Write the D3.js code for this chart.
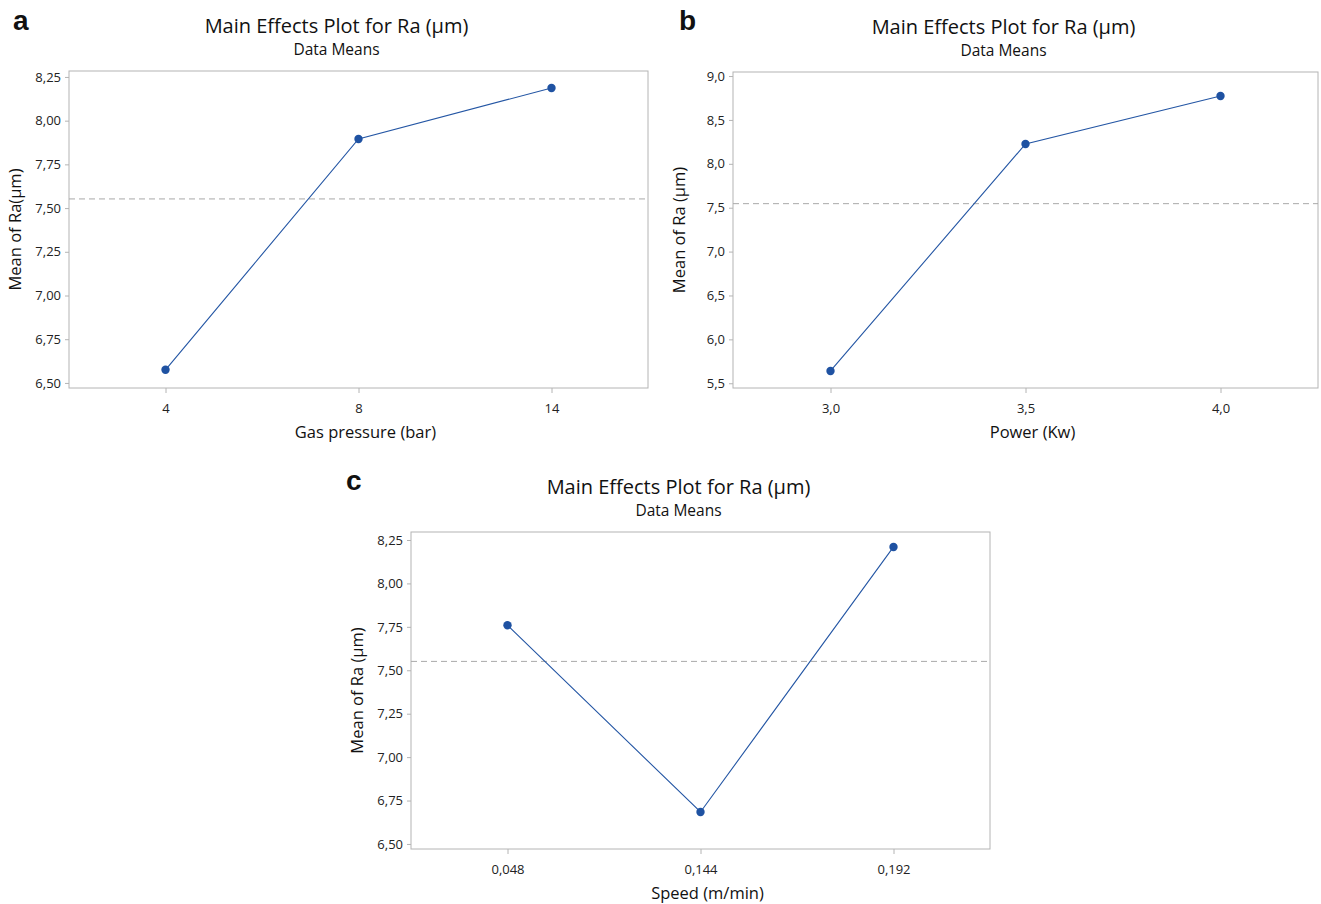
<!DOCTYPE html>
<html>
<head>
<meta charset="utf-8">
<script src="https://cdn.jsdelivr.net/npm/d3@7"></script>
<style>
  html, body { margin: 0; padding: 0; background: #fff; }
  svg { display: block; }
  .tick text { font-family: "Open Sans", "Noto Sans", sans-serif; font-size: 13px; fill: #222; }
</style>
</head>
<body>
<svg id="fig" width="1321" height="904"></svg>
<script>
// Main effects of the process factors on surface roughness Ra (µm)
const gasPressureLevels = ["4", "8", "14"];
const raByGasPressure = [6.575, 7.895, 8.187];

const powerLevels = ["3,0", "3,5", "4,0"];
const raByPower = [5.64, 8.226, 8.772];

const speedLevels = ["0,048", "0,144", "0,192"];
const raBySpeed = [7.759, 6.684, 8.21];

const ticksQuarter = [6.5, 6.75, 7.0, 7.25, 7.5, 7.75, 8.0, 8.25];
const ticksHalf = [5.5, 6.0, 6.5, 7.0, 7.5, 8.0, 8.5, 9.0];

const locale = d3.formatLocale({ decimal: ",", thousands: ".", grouping: [3], currency: ["", ""] });

const svg = d3.select("#fig");
const FONT = '"Open Sans", "Noto Sans", sans-serif';
const LINE = "#2456a4";
const FRAME = "#b4b4b4";

function panel(cfg) {
  const { x0, x1, y0, y1 } = cfg.frame;
  const g = svg.append("g");

  const x = d3.scalePoint().domain(cfg.levels).range([x0, x1]).padding(0.5);
  const y = d3.scaleLinear().domain(cfg.yDomain).range([y1, y0]);

  // frame
  g.append("rect")
    .attr("x", x0).attr("y", y0)
    .attr("width", x1 - x0).attr("height", y1 - y0)
    .attr("fill", "none").attr("stroke", FRAME).attr("stroke-width", 1);

  // axes
  const yAxis = d3.axisLeft(y).tickValues(cfg.yTicks)
    .tickFormat(locale.format(cfg.yFormat)).tickSize(4).tickPadding(4);
  const ga = g.append("g").attr("transform", `translate(${x0},0)`).call(yAxis);
  ga.select(".domain").remove();
  ga.selectAll(".tick line").attr("stroke", FRAME);

  const xAxis = d3.axisBottom(x).tickSize(5).tickPadding(11);
  const gb = g.append("g").attr("transform", `translate(0,${y1})`).call(xAxis);
  gb.select(".domain").remove();
  gb.selectAll(".tick line").attr("stroke", FRAME);

  // grand mean reference line
  const mean = d3.mean(cfg.values);
  g.append("line")
    .attr("x1", x0).attr("x2", x1)
    .attr("y1", y(mean)).attr("y2", y(mean))
    .attr("stroke", "#a9a9a9").attr("stroke-width", 1)
    .attr("stroke-dasharray", "6,4");

  // effect line and level means
  const pts = cfg.levels.map((l, i) => [x(l), y(cfg.values[i])]);
  g.append("path")
    .attr("d", d3.line()(pts))
    .attr("fill", "none").attr("stroke", LINE).attr("stroke-width", 1.1);
  g.selectAll("circle.pt").data(pts).join("circle")
    .attr("class", "pt")
    .attr("cx", d => d[0]).attr("cy", d => d[1]).attr("r", 4.2)
    .attr("fill", "#1f52a2");

  const cx = (x0 + x1) / 2;
  // titles
  g.append("text").attr("x", cx - 22).attr("y", 33)
    .attr("transform", `translate(0,${y0 - 71})`)
    .attr("text-anchor", "middle").attr("font-family", FONT)
    .attr("font-size", 20).attr("fill", "#111")
    .text("Main Effects Plot for Ra (µm)");
  g.append("text").attr("x", cx - 22).attr("y", 55)
    .attr("transform", `translate(0,${y0 - 71})`)
    .attr("text-anchor", "middle").attr("font-family", FONT)
    .attr("font-size", 15.5).attr("fill", "#111")
    .text("Data Means");

  // axis titles
  g.append("text").attr("x", cx + 7).attr("y", y1 + 50)
    .attr("text-anchor", "middle").attr("font-family", FONT)
    .attr("font-size", 16.5).attr("fill", "#111")
    .text(cfg.xTitle);
  g.append("text")
    .attr("transform", `translate(${x0 - 48},${(y0 + y1) / 2}) rotate(-90)`)
    .attr("text-anchor", "middle").attr("font-family", FONT)
    .attr("font-size", 16.5).attr("fill", "#111")
    .text(cfg.yTitle);

  // panel letter
  g.append("text").attr("x", cfg.letterPos[0]).attr("y", cfg.letterPos[1])
    .attr("font-family", '"Liberation Sans", Arial, sans-serif')
    .attr("font-weight", "bold").attr("font-size", 28).attr("fill", "#111")
    .text(cfg.letter);
}

panel({
  letter: "a", letterPos: [13, 30],
  frame: { x0: 69, x1: 648, y0: 71, y1: 388 },
  levels: gasPressureLevels, values: raByGasPressure,
  yDomain: [6.471, 8.284], yTicks: ticksQuarter, yFormat: ".2f",
  xTitle: "Gas pressure (bar)", yTitle: "Mean of Ra(µm)"
});

panel({
  letter: "b", letterPos: [679, 30],
  frame: { x0: 733, x1: 1318, y0: 72, y1: 388 },
  levels: powerLevels, values: raByPower,
  yDomain: [5.446, 9.046], yTicks: ticksHalf, yFormat: ".1f",
  xTitle: "Power (Kw)", yTitle: "Mean of Ra (µm)"
});

panel({
  letter: "c", letterPos: [346, 490],
  frame: { x0: 411, x1: 990, y0: 532, y1: 849 },
  levels: speedLevels, values: raBySpeed,
  yDomain: [6.471, 8.296], yTicks: ticksQuarter, yFormat: ".2f",
  xTitle: "Speed (m/min)", yTitle: "Mean of Ra (µm)"
});
</script>
</body>
</html>
